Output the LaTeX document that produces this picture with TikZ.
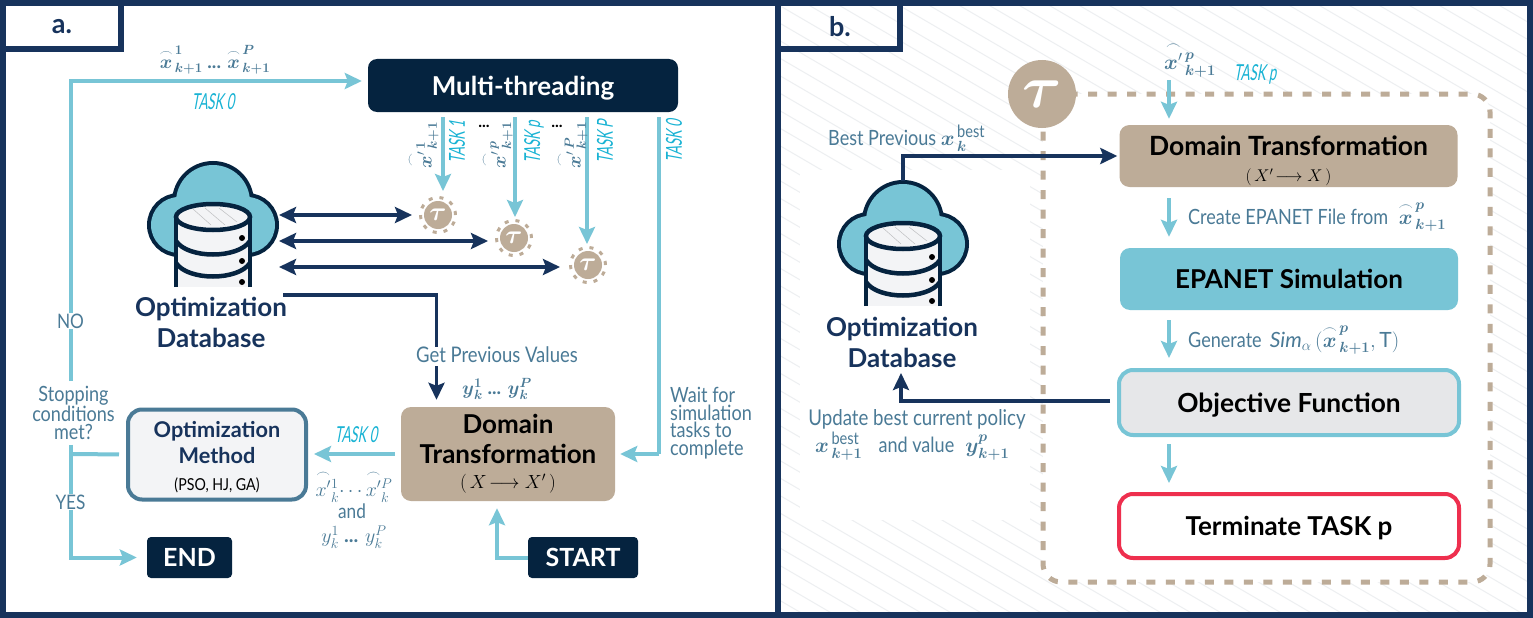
\RequirePackage{fix-cm}
\documentclass[tikz,border=0pt]{standalone}
\usepackage{amsmath}
\usepackage{fontspec}
\setmainfont{Lato}
\newfontfamily\condfont[FakeStretch=0.86]{Lato}
\newfontfamily\taskfont[FakeStretch=0.6,FakeSlant=0.18]{Lato}
\usetikzlibrary{arrows.meta}

\definecolor{navyline}{HTML}{17335C}
\definecolor{darkbox}{HTML}{05233F}
\definecolor{tealline}{HTML}{78C5D6}
\definecolor{tanbox}{HTML}{BDAC98}
\definecolor{labelblue}{HTML}{4A7A96}
\definecolor{taskcyan}{HTML}{19B3D4}
\definecolor{methodfill}{HTML}{F3F4F6}
\definecolor{objfill}{HTML}{E6E7E9}
\definecolor{termred}{HTML}{EE2F4E}
\definecolor{hatchgrey}{HTML}{EDEFF1}

\newcommand{\fsz}[1]{\fontsize{#1}{#1}\selectfont}
\newcommand{\xhat}[2]{$\overset{\frown}{\boldsymbol{x}}^{\,\boldsymbol{#1}}_{\,\boldsymbol{#2}}$}
\newcommand{\xhatp}[2]{$\overset{\frown}{\boldsymbol{x}'}{}^{\,\boldsymbol{#1}}_{\,\boldsymbol{#2}}$}
\newcommand{\bestsup}{\text{\fsz{17}\condfont best}}

\tikzset{
  teal arrow/.style={draw=tealline,line width=4pt,-{Stealth[length=17pt,width=16pt,inset=3pt]}},
  teal plain/.style={draw=tealline,line width=4pt},
  navy arrow/.style={draw=navyline,line width=3.5pt,-{Stealth[length=17pt,width=16pt,inset=3pt]}},
  navy both/.style={navy arrow,{Stealth[length=17pt,width=16pt,inset=3pt]}-{Stealth[length=17pt,width=16pt,inset=3pt]}},
  darknode/.style={fill=darkbox,text=white,rounded corners=#1,inner sep=0pt,font=\bfseries},
  tannode/.style={fill=tanbox,text=black,rounded corners=10pt,inner sep=0pt,font=\bfseries,align=center},
  lbl/.style={text=labelblue,inner sep=0pt,font=\condfont\fsz{#1},align=center},
  lbl/.default=19,
  tasklbl/.style={text=taskcyan,inner sep=0pt,font=\taskfont\fsz{22}},
  dbtitle/.style={text=navyline,inner sep=0pt,align=center,font=\fontsize{26}{31}\selectfont\bfseries},
  tauring/.style={circle,draw=tanbox,line width=3pt,dash pattern=on 4pt off 7pt,minimum size=35pt,inner sep=0pt},
  taudisc/.style={circle,fill=tanbox,text=white,minimum size=28pt,inner sep=0pt,font=\fsz{26}},
  dbicon/.pic={
    \draw[draw=darkbox,line width=8pt] (0,-15) circle[radius=37] (-34,8) circle[radius=28] (34,8) circle[radius=28];
    \fill[tealline] (0,-15) circle[radius=37] (-34,8) circle[radius=28] (34,8) circle[radius=28];
    \fill[methodfill] (-37,0) rectangle (37,70);
    \draw[draw=darkbox,line width=4.5pt] (-37,70) -- (-37,0) (37,70) -- (37,0);
    \draw[fill=methodfill,draw=darkbox,line width=4.5pt] (0,0) ellipse[x radius=37,y radius=13];
    \draw[draw=darkbox,line width=4.5pt] (-37,24) .. controls (-25,42) and (25,42) .. (37,24);
    \draw[draw=darkbox,line width=4.5pt] (-37,46) .. controls (-25,64) and (25,64) .. (37,46);
    \foreach \dy in {21,44,65} \fill[black] (29,\dy) circle[radius=3];
    \draw[hatchgrey!80!black,line width=.5pt] (-20,-8) -- (-2,8) (-8,-9) -- (12,8) (6,-9) -- (24,5);
  }
}

\begin{document}
\begin{tikzpicture}[x=1pt,y=-1pt]
\useasboundingbox (0,0) rectangle (1533,618);
\fill[white] (0,0) rectangle (1533,618);

% hatching of panel b
\begin{scope}
  \clip (781,6) rectangle (1527,612);
  \foreach \i in {-340,-310,...,1500}
    \draw[hatchgrey,line width=1pt] (\i,0) -- ({\i+1060},618);
  \fill[white] (800,170) rectangle (1030,520);
\end{scope}

% frame
\draw[navyline,line width=6pt] (2.5,3) rectangle (1530,615);
\draw[navyline,line width=6pt] (778,3) -- (778,615);
\draw[navyline,line width=6pt] (2.5,3) rectangle (121,49);
\draw[navyline,line width=6pt] (778,3) rectangle (900,49);
\node[text=navyline,font=\fsz{27}\bfseries] (taba) at (62,27) {a.};
\node[text=navyline,font=\fsz{27}\bfseries] (tabb) at (840,27) {b.};

% panel a
\node[darknode=9pt,minimum width=310pt,minimum height=53pt,text depth=0pt,font=\fsz{26}\bfseries] (multi) at (523,85.5) {Multi-threading};
\node[tannode,minimum width=214pt,minimum height=94pt,font=\fontsize{26}{31}\selectfont\bfseries] (domaina) at (508,454)
  {Domain\\[-1pt]Transformation\\[-6pt]{\mdseries\fsz{19}$(\,X\!\longrightarrow X'\,)$}};
\node[draw=labelblue,fill=methodfill,line width=4pt,rounded corners=14pt,minimum width=178pt,minimum height=90pt,
  align=center,inner sep=0pt,text=navyline,font=\fontsize{21.7}{26}\selectfont\bfseries] (method) at (217,454.5)
  {\rule{0pt}{22pt}Optimization\\Method\\[1pt]{\mdseries\color{black}\condfont\fsz{16.5}(PSO, HJ, GA)}};
\node[darknode=4pt,minimum width=85pt,minimum height=41pt,font=\fsz{25}\bfseries] (endbox) at (189.5,557.5) {END};
\node[darknode=4pt,minimum width=110pt,minimum height=41pt,font=\fsz{25}\bfseries] (start) at (583,557.5) {START};

\pic at (213,217) {dbicon};
\node[dbtitle] (dba) at (211,322.5) {Optimization\\Database};

\foreach \n/\x/\y in {1/438/215,2/514/238,3/588/265} {
  \node[tauring] (ring\n) at (\x,\y) {};
  \node[taudisc] (tau\n) at (\x,\y) {$\boldsymbol{\tau}$};
}
\coordinate (dbright) at (279,0);
\coordinate (rowone) at (0,215);
\coordinate (rowtwo) at (0,241);
\coordinate (rowthree) at (0,267);
\coordinate (getcol) at (436.5,0);
\coordinate (task1) at (443,0);
\coordinate (taskp) at (515,0);
\coordinate (taskP) at (587,0);
\coordinate (taskz) at (659,0);
\coordinate (waitturn) at (659,454);
\coordinate (startturn) at (497,557.5);
\coordinate (getstart) at (283,295);
\coordinate (branch) at (70.5,454);

\node[lbl=20] (no) at (70.5,321) {NO};
\node[lbl=20] (yes) at (70.5,502) {YES};
\node[lbl=20,font=\condfont\fontsize{21}{17.5}\selectfont] (stop) at (73.5,413) {Stopping\\conditions\\met?};
\node[lbl=20,font=\condfont\fsz{21.5}] (getprev) at (497,355) {Get Previous Values};
\node[lbl=20,align=left,font=\condfont\fontsize{21}{17.5}\selectfont] (waitlbl) at (711,423) {Wait for\\simulation\\tasks to\\complete};

\draw[teal plain] (stop.north -| no) ++(0,-5) -- (no.south);
\draw[teal arrow,shorten >=6pt] (no.north) |- ([yshift=4.5pt]multi.west);
\node[lbl=20,font=\bfseries\fsz{19}] (topx) at (215,60) {\xhat{1}{k+1} ... \xhat{P}{k+1}};
\node[tasklbl] (task0top) at (213,102) {TASK 0};

\draw[teal arrow,shorten <=5pt,shorten >=5pt] (multi.south -| task1) -- (ring1.north -| task1);
\draw[teal arrow,shorten <=5pt,shorten >=2pt] (multi.south -| taskp) -- (ring2.north -| taskp);
\draw[teal arrow,shorten <=5pt,shorten >=2pt] (multi.south -| taskP) -- (ring3.north -| taskP);
\draw[teal plain,shorten <=5pt] (multi.south -| taskz) -- (waitturn);
\draw[teal arrow,shorten >=5pt] (waitturn) -- (domaina.east |- waitturn);

\node[lbl=20,rotate=90,font=\fsz{19}] (vx1) at (423,145) {\xhatp{1}{k+1}};
\node[lbl=20,rotate=90,font=\fsz{19}] (vxp) at (497,145) {\xhatp{p}{k+1}};
\node[lbl=20,rotate=90,font=\fsz{19}] (vxP) at (572,145) {\xhatp{P}{k+1}};
\node[tasklbl,rotate=90] (vt1) at (457,142) {TASK 1};
\node[tasklbl,rotate=90] (vtp) at (534,142) {TASK p};
\node[tasklbl,rotate=90] (vtP) at (605,142) {TASK P};
\node[tasklbl,rotate=90] (vt0) at (674,141) {TASK 0};
\node[font=\bfseries\fsz{16},inner sep=0pt] (dots1) at (484,126) {...};
\node[font=\bfseries\fsz{16},inner sep=0pt] (dots2) at (557,126) {...};

\draw[navy both,shorten >=7pt] (dbright |- rowone) -- (ring1.west |- rowone);
\draw[navy both,shorten >=7pt] (dbright |- rowtwo) -- (ring2.west |- rowtwo);
\draw[navy both,shorten >=9pt] (dbright |- rowthree) -- (ring3.west |- rowthree);

\draw[navyline,line width=3.5pt] (getstart) -| (getprev.north -| getcol);
\draw[navy arrow,shorten <=3pt,shorten >=7pt] (getprev.south -| getcol) -- (domaina.north -| getcol);
\node[lbl=20,font=\fsz{19}] (yvals) at (497,389) {$\boldsymbol{y}_{\boldsymbol{k}}^{\boldsymbol{1}}$ \textbf{...} $\boldsymbol{y}_{\boldsymbol{k}}^{\boldsymbol{P}}$};

\draw[teal arrow,shorten <=6pt,shorten >=6pt] (domaina.west |- branch) -- (method.east |- branch);
\node[tasklbl] (task0low) at (356,435) {TASK 0};
\node[lbl=20,font=\fsz{20}] (lowx) at (354,486) {$\overset{\frown}{x'}{}^{1}_{k}\!\cdots\overset{\frown}{x'}{}^{P}_{k}$};
\node[lbl=20] (andlbl) at (352,511) {and};
\node[lbl=20,font=\fsz{20}] (lowy) at (354,537) {$y_{k}^{1}$ \textbf{...} $y_{k}^{P}$};

\draw[teal plain,shorten <=7pt] (method.west) -- (branch);
\draw[teal plain,shorten <=5pt] (stop.south -| branch) -- (yes.north);
\draw[teal arrow,shorten >=10pt] (yes.south) |- (endbox.west);
\draw[teal arrow,shorten >=7pt] (start.west) -- (startturn) -- (domaina.south -| startturn);

% panel b
\filldraw[fill=white,draw=tanbox,line width=5pt,dash pattern=on 9pt off 10.5pt,rounded corners=18pt] (1043,94) rectangle (1490,582);
\node[circle,fill=tanbox,text=white,minimum size=68pt,inner sep=0pt,font=\fsz{60}] (bigtau) at (1042,94) {$\boldsymbol{\tau}$};

\node[tannode,minimum width=338pt,minimum height=62pt,font=\fontsize{26.5}{30}\selectfont\bfseries] (domainb) at (1288.5,156)
  {\rule{0pt}{29pt}Domain Transformation\\[-4pt]{\mdseries\fsz{17}$(\,X'\!\longrightarrow X\,)$}};
\node[fill=tealline,rounded corners=10pt,minimum width=338pt,minimum height=62pt,inner sep=0pt,font=\fsz{26}\bfseries] (epanet) at (1289,279) {EPANET Simulation};
\node[draw=tealline,fill=objfill,line width=4pt,rounded corners=14pt,minimum width=340pt,minimum height=65pt,inner sep=0pt,text depth=0pt,font=\fsz{26.3}\bfseries] (objective) at (1289,402.5) {Objective Function};
\node[draw=termred,fill=white,line width=4pt,rounded corners=14pt,minimum width=340pt,minimum height=64pt,inner sep=0pt,text depth=0pt,font=\fsz{26}\bfseries] (terminate) at (1289,526) {Terminate TASK p};

\pic at (903,236) {dbicon};
\node[dbtitle] (dbb) at (902,342.5) {Optimization\\Database};

\coordinate (flowcol) at (1169,0);
\coordinate (topfree) at (1169,80);
\coordinate (dbtop) at (903,181);
\coordinate (backturn) at (901,401);
\coordinate (backtip) at (901,373);

\draw[teal arrow,shorten >=6pt] (topfree) -- (domainb.north -| flowcol);
\draw[teal arrow,shorten <=11pt,shorten >=11pt] (domainb.south -| flowcol) -- (epanet.north -| flowcol);
\draw[teal arrow,shorten <=10pt,shorten >=10pt] (epanet.south -| flowcol) -- (objective.north -| flowcol);
\draw[teal arrow,shorten <=7pt,shorten >=9pt] (objective.south -| flowcol) -- (terminate.north -| flowcol);

\draw[navy arrow,shorten >=2pt] (dbtop) |- (domainb.west);
\draw[navy arrow,shorten <=7pt] (objective.west |- backturn) -- (backturn) -- (backtip);

\node[lbl=20,font=\fsz{21}] (topb) at (1190,60) {\xhatp{p}{k+1}};
\node[tasklbl] (taskptop) at (1255,74) {TASK p};
\node[lbl=21,anchor=west] (createlbl) at (1188,217) {Create EPANET File from \;\fsz{21}\xhat{p}{k+1}};
\node[lbl=21,anchor=west] (genlbl) at (1188,340) {Generate \,$\mathit{Sim}_{\alpha}$\,$($\fsz{21}\xhat{p}{k+1}$,\mathrm{T})$};
\node[lbl=21,anchor=west] (bestlbl) at (828,138) {Best Previous $\boldsymbol{x}^{\,\bestsup}_{\,\boldsymbol{k}}$};
\node[lbl=21.7] (updlbl) at (917,419) {Update best current policy};
\node[lbl=21,anchor=west] (updlbl2) at (815,446) {$\boldsymbol{x}^{\,\bestsup}_{\,\boldsymbol{k+1}}$ \;\;and value\hspace{11pt}$\boldsymbol{y}^{\boldsymbol{p}}_{\boldsymbol{k+1}}$};
\end{tikzpicture}
\end{document}
